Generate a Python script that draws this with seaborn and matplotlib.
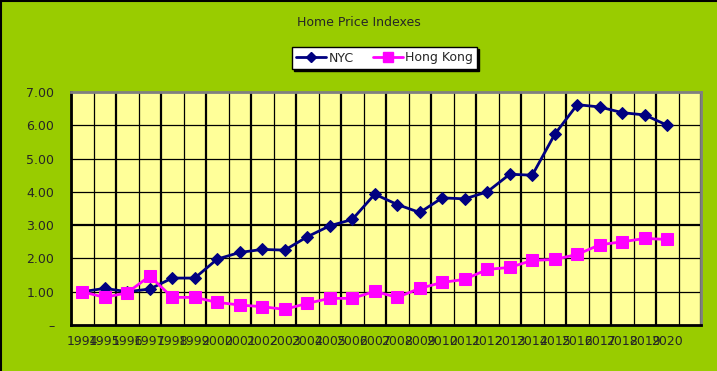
import matplotlib
matplotlib.use("Agg")
import matplotlib.pyplot as plt
from matplotlib.lines import Line2D
import numpy as np
import pandas as pd
import seaborn as sns

years = [str(y) for y in range(1994, 2021)]
nyc = [1.00, 1.10, 1.00, 1.08, 1.41, 1.41, 1.98, 2.18, 2.27, 2.25, 2.65, 2.98, 3.17, 3.93,
       3.62, 3.38, 3.82, 3.79, 4.00, 4.53, 4.50, 5.73, 6.62, 6.55, 6.38, 6.31, 6.00]
hong_kong = [1.00, 0.83, 0.97, 1.47, 0.83, 0.83, 0.68, 0.60, 0.55, 0.47, 0.65, 0.80, 0.80, 1.01,
             0.83, 1.10, 1.28, 1.37, 1.67, 1.73, 1.94, 1.97, 2.12, 2.41, 2.50, 2.60, 2.57]
y_ticks = [0, 1, 2, 3, 4, 5, 6, 7]

BG = "#99CC00"
FACE = "#FFFF99"

sns.set_style("white")
plt.rcParams["font.family"] = ["DejaVu Sans"]

fig = plt.figure(figsize=(7.17, 3.71), dpi=100, facecolor=BG)
ax = fig.add_axes([71 / 717, 46 / 371, 630 / 717, 233 / 371])
ax.set_facecolor(FACE)

pos = np.arange(len(years))
df = pd.DataFrame({"pos": pos, "NYC": nyc, "Hong Kong": hong_kong})

# grid first so the lines sit on top
for k in range(len(years) + 2):
    x = k - 0.5
    ax.axvline(x, color="black", lw=1.6 if k % 2 == 0 else 0.9, zorder=1)
for v in y_ticks[1:-1]:
    ax.axhline(v, color="black", lw=1.6 if v == 3 else 0.9, zorder=1)

sns.lineplot(data=df, x="pos", y="NYC", ax=ax, color="#000080", lw=2,
             marker="D", markersize=6, markeredgecolor="#000080", zorder=3)
sns.lineplot(data=df, x="pos", y="Hong Kong", ax=ax, color="#FF00FF", lw=2,
             marker="s", markersize=8, markeredgecolor="#FF00FF", zorder=3)

ax.set_xlim(-0.5, len(years) + 0.5)
ax.set_ylim(0, 7)
ax.set_xticks(pos)
ax.set_xticklabels(years, fontsize=9)
ax.set_yticks(y_ticks)
ax.set_yticklabels(["–" if v == 0 else f"{v:.2f}" for v in y_ticks], fontsize=9)
ax.tick_params(axis="x", length=0, pad=7)
ax.tick_params(axis="y", length=0, pad=12)
ax.set_xlabel("")
ax.set_ylabel("")

for side in ["top", "right"]:
    ax.spines[side].set_color("#808080")
    ax.spines[side].set_linewidth(2)
for side in ["left", "bottom"]:
    ax.spines[side].set_color("black")
    ax.spines[side].set_linewidth(2)

fig.text(358.5 / 717, 1 - 23 / 371, "Home Price Indexes", ha="center", va="center", fontsize=9)

handles = [
    Line2D([], [], color="#000080", lw=2, marker="D", markersize=5),
    Line2D([], [], color="#FF00FF", lw=2, marker="s", markersize=7),
]
leg = fig.legend(handles, ["NYC", "Hong Kong"], loc="center",
                 bbox_to_anchor=(384.5 / 717, 1 - 58 / 371), ncol=2, fontsize=9,
                 frameon=True, fancybox=False, shadow={"color": "black", "alpha": 1, "ox": 1.5, "oy": -1.5},
                 handlelength=2.4, columnspacing=1.5, handletextpad=0.2,
                 borderpad=0.35)
leg.get_frame().set_edgecolor("black")
leg.get_frame().set_facecolor("white")
leg.get_frame().set_linewidth(1)

# figure border on left and top
fig.add_artist(Line2D([0.5 / 717, 0.5 / 717], [0, 1], color="black", lw=1.5, transform=fig.transFigure))
fig.add_artist(Line2D([0, 1], [1 - 0.5 / 371, 1 - 0.5 / 371], color="black", lw=1.5, transform=fig.transFigure))

fig.savefig("out.png", dpi=100, facecolor=BG)
